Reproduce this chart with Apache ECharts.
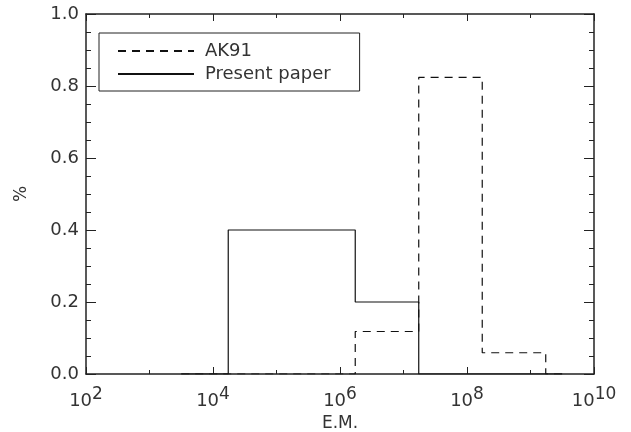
<!DOCTYPE html>
<html><head><meta charset="utf-8">
<script src="https://cdn.jsdelivr.net/npm/echarts@6/dist/echarts.min.js"></script>
<style>html,body{margin:0;padding:0;background:#fff}#c{width:631px;height:432px}</style>
</head><body><div id="c"></div>
<script>
// Bin edges (log10 of E.M.) and fraction per bin
const binEdgesLog = [3.5, 4.24, 5.24, 6.24, 7.24, 8.24, 9.24, 9.5];
const presentPaper = [0, 0.4, 0.4, 0.2, 0, 0, 0];
const ak91 = [0, 0, 0, 0.118, 0.824, 0.059, 0];
const seriesNames = ['AK91', 'Present paper'];
const xMinExp = 2, xMaxExp = 10;
const yMin = 0, yMax = 1;

function stepData(vals) {
  const d = vals.map((v, i) => [Math.pow(10, binEdgesLog[i]), v]);
  d.push([Math.pow(10, binEdgesLog[vals.length]), vals[vals.length - 1]]);
  return d;
}

const FONT = 'DejaVu Sans';
const TXT = '#333';
const AX = '#222';

function xAxisDef(pos, interval, len, labels, withLine) {
  return {
    type: 'log', logBase: 10, min: Math.pow(10, xMinExp), max: Math.pow(10, xMaxExp),
    interval: interval, position: pos,
    axisLine: { show: withLine, lineStyle: { color: AX, width: 1.5 } },
    axisTick: { show: true, inside: true, length: len, lineStyle: { color: AX, width: 1 } },
    splitLine: { show: false },
    minorTick: { show: false },
    axisLabel: {
      show: labels, margin: 12,
      formatter: v => '{b|10}{s|' + Math.round(Math.log10(v)) + '}',
      rich: {
        b: { fontFamily: FONT, fontSize: 18, color: TXT },
        s: { fontFamily: FONT, fontSize: 17, color: TXT, verticalAlign: 'bottom', padding: [0, 0, 14, 0] }
      }
    },
    name: labels ? 'E.M.' : '', nameLocation: 'middle', nameGap: 39,
    nameTextStyle: { fontFamily: FONT, fontSize: 17, color: TXT }
  };
}
function yAxisDef(pos, labels) {
  return {
    type: 'value', min: yMin, max: yMax, interval: 0.2, position: pos,
    axisLine: { show: true, lineStyle: { color: AX, width: 1.5 } },
    axisTick: { show: true, inside: true, length: 10, lineStyle: { color: AX, width: 1 } },
    minorTick: { show: true, splitNumber: 4, length: 5, lineStyle: { color: AX, width: 1 } },
    splitLine: { show: false },
    axisLabel: { show: labels, margin: 7, fontFamily: FONT, fontSize: 18, color: TXT, formatter: v => v.toFixed(1) },
    name: labels ? '%' : '', nameLocation: 'middle', nameGap: 56, nameRotate: 90,
    nameTextStyle: { fontFamily: FONT, fontSize: 17, color: TXT }
  };
}

const chart = echarts.init(document.getElementById('c'), null, { renderer: 'canvas' });
chart.setOption({
  animation: false,
  backgroundColor: '#fff',
  grid: { left: 86, right: 37, top: 14, bottom: 58, containLabel: false, outerBoundsMode: 'none' },
  xAxis: [
    xAxisDef('bottom', 1, 4, false, true),
    xAxisDef('bottom', 2, 7, true, false),
    xAxisDef('top', 1, 4, false, true),
    xAxisDef('top', 2, 7, false, false)
  ],
  yAxis: [yAxisDef('left', true), yAxisDef('right', false)],
  legend: {
    data: seriesNames, orient: 'vertical', left: 99, top: 33,
    borderColor: AX, borderWidth: 1, padding: [9, 29, 8, 18],
    itemWidth: 76, itemHeight: 14, itemGap: 5,
    itemStyle: { opacity: 0, borderWidth: 0 },
    textStyle: { fontFamily: FONT, fontSize: 18, color: TXT, padding: [0, 0, 0, 6] }
  },
  series: [
    { name: seriesNames[0], type: 'line', step: 'end', xAxisIndex: 0, yAxisIndex: 0,
      data: stepData(ak91), symbol: 'none', showSymbol: false,
      lineStyle: { color: '#111', width: 1.2, type: [8, 6] }, itemStyle: { color: '#111' } },
    { name: seriesNames[1], type: 'line', step: 'end', xAxisIndex: 0, yAxisIndex: 0,
      data: stepData(presentPaper), symbol: 'none', showSymbol: false,
      lineStyle: { color: '#111', width: 1.2, type: 'solid' }, itemStyle: { color: '#111' } }
  ]
});
</script></body></html>
